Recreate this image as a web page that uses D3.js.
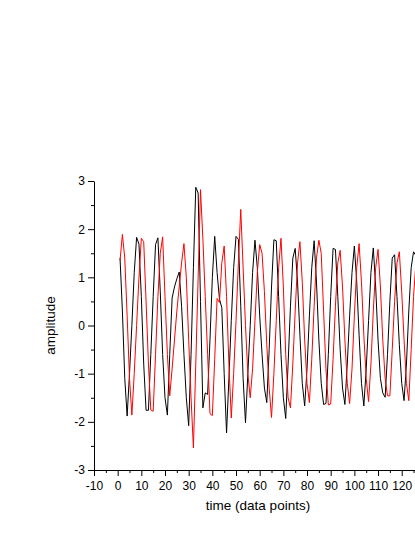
<!DOCTYPE html>
<html>
<head>
<meta charset="utf-8">
<script src="https://cdn.jsdelivr.net/npm/d3@7"></script>
<style>
  html, body { margin: 0; padding: 0; background: #fff; }
  svg { display: block; font-family: "Liberation Sans", Arial, sans-serif; }
</style>
</head>
<body>
<div id="app"></div>
<script>
// sample index (time, data points) for both traces
const time = d3.range(1, 128);

// black trace
const black = [
  1.40, 0.30, -1.10, -1.88, -1.00, 0.00, 1.10, 1.83, 1.69, 0.60,
  -0.80, -1.76, -1.76, -0.60, 0.60, 1.68, 1.82, 0.70, -0.60, -1.50,
  -1.86, -0.60, 0.57, 0.80, 0.97, 1.11, 0.40, -0.60, -1.50, -2.08,
  -0.60, 1.20, 2.87, 2.75, 0.50, -1.71, -1.40, -1.43, -0.30, 1.00,
  1.85, 1.10, 0.55, 0.37, -1.00, -2.23, -1.10, 0.10, 1.20, 1.85,
  1.79, 0.40, -1.10, -2.02, -1.00, 0.00, 1.10, 1.77, 1.20, 0.20,
  -0.60, -1.30, -1.60, -0.50, 0.80, 1.78, 1.76, 0.60, -0.60, -1.50,
  -1.93, -0.80, 0.40, 1.40, 1.60, 0.90, -0.20, -1.20, -1.67, -0.90,
  0.20, 1.20, 1.76, 0.90, -0.30, -1.20, -1.64, -1.62, -0.60, 0.60,
  1.60, 1.58, 0.60, -0.50, -1.30, -1.64, -0.80, 0.20, 1.10, 1.65,
  0.90, -0.20, -1.20, -1.67, -0.90, 0.10, 1.10, 1.61, 0.80, -0.30,
  -1.10, -1.40, -1.49, -0.60, 0.50, 1.40, 1.47, 0.60, -0.40, -1.20,
  -1.56, -0.80, 0.30, 1.20, 1.53, 1.45, 0.80
];

// red trace
const red = [
  1.35, 1.89, 1.40, 0.20, -1.10, -1.86, -1.00, 0.00, 1.00, 1.81,
  1.74, 0.50, -0.80, -1.75, -1.78, -0.60, 0.60, 1.50, 1.84, 0.60,
  -0.60, -1.46, -0.90, -0.30, 0.30, 0.80, 1.30, 1.70, 1.00, -0.30,
  -1.50, -2.54, -0.80, 1.00, 2.82, 1.80, 0.60, -0.60, -1.83, -1.87,
  -0.70, 0.56, 0.48, 1.30, 1.65, 0.60, -0.80, -1.92, -1.00, 0.10,
  1.30, 2.41, 1.20, 0.00, -1.00, -1.50, -0.90, 0.10, 1.10, 1.68,
  1.50, 0.70, -0.40, -1.30, -1.91, -1.00, 0.10, 1.20, 1.81, 0.80,
  -0.60, -1.50, -1.71, -0.80, 0.30, 1.30, 1.74, 0.90, -0.30, -1.20,
  -1.60, -0.70, 0.40, 1.40, 1.77, 1.50, 0.30, -0.90, -1.65, -1.63,
  -0.70, 0.40, 1.30, 1.56, 0.80, -0.30, -1.20, -1.62, -0.90, 0.20,
  1.20, 1.70, 0.90, -0.20, -1.10, -1.58, -0.80, 0.30, 1.20, 1.58,
  0.80, -0.30, -1.10, -1.46, -1.46, -0.50, 0.50, 1.30, 1.53, 0.70,
  -0.30, -1.20, -1.56, -0.50, 0.60, 1.30, 1.50
];

const xTicks = d3.range(-10, 130, 10);
const xMinorTicks = d3.range(-5, 135, 10);
const yTicks = [-3, -2, -1, 0, 1, 2, 3];
const yMinorTicks = [-2.5, -1.5, -0.5, 0.5, 1.5, 2.5];

const width = 415;
const height = 537;
const plotLeft = 94;
const plotTop = 181;
const plotBottom = 470;
const pxPerUnit = 2.367;

const svg = d3.select('#app').append('svg')
  .attr('width', width)
  .attr('height', height);

const x = d3.scaleLinear()
  .domain([-10, 140])
  .range([plotLeft, plotLeft + 150 * pxPerUnit]);

const y = d3.scaleLinear()
  .domain([-3, 3])
  .range([plotBottom, plotTop]);

const line = d3.line()
  .x((d, i) => x(time[i]))
  .y(d => y(d));

svg.append('path')
  .datum(black)
  .attr('fill', 'none')
  .attr('stroke', '#000')
  .attr('stroke-width', 1)
  .attr('d', line);

svg.append('path')
  .datum(red)
  .attr('fill', 'none')
  .attr('stroke', '#f00')
  .attr('stroke-width', 1)
  .attr('d', line);

// axes: major ticks with labels, then unlabeled minor ticks
const fmt = d => String(d);

const xAxis = svg.append('g')
  .attr('transform', `translate(0,${plotBottom})`)
  .call(d3.axisBottom(x).tickValues(xTicks).tickFormat(fmt).tickSize(6).tickSizeOuter(0));

svg.append('g')
  .attr('transform', `translate(0,${plotBottom})`)
  .call(d3.axisBottom(x).tickValues(xMinorTicks).tickFormat('').tickSize(3).tickSizeOuter(0))
  .select('.domain').remove();

const yAxis = svg.append('g')
  .attr('transform', `translate(${plotLeft},0)`)
  .call(d3.axisLeft(y).tickValues(yTicks).tickFormat(fmt).tickSize(6).tickSizeOuter(0));

svg.append('g')
  .attr('transform', `translate(${plotLeft},0)`)
  .call(d3.axisLeft(y).tickValues(yMinorTicks).tickFormat('').tickSize(3).tickSizeOuter(0))
  .select('.domain').remove();

svg.selectAll('.domain, .tick line')
  .attr('stroke', '#000')
  .attr('stroke-width', 1);

svg.selectAll('.tick text')
  .attr('fill', '#000')
  .style('font-size', '12px')
  .style('font-family', '"Liberation Sans", Arial, sans-serif');

xAxis.selectAll('.tick text').attr('dy', '0.9em');
yAxis.selectAll('.tick text').attr('x', -9);

svg.append('text')
  .attr('x', 258)
  .attr('y', 510)
  .attr('text-anchor', 'middle')
  .style('font-size', '13.5px')
  .text('time (data points)');

svg.append('text')
  .attr('transform', `translate(55,${y(0)}) rotate(-90)`)
  .attr('text-anchor', 'middle')
  .style('font-size', '13.5px')
  .text('amplitude');
</script>
</body>
</html>
